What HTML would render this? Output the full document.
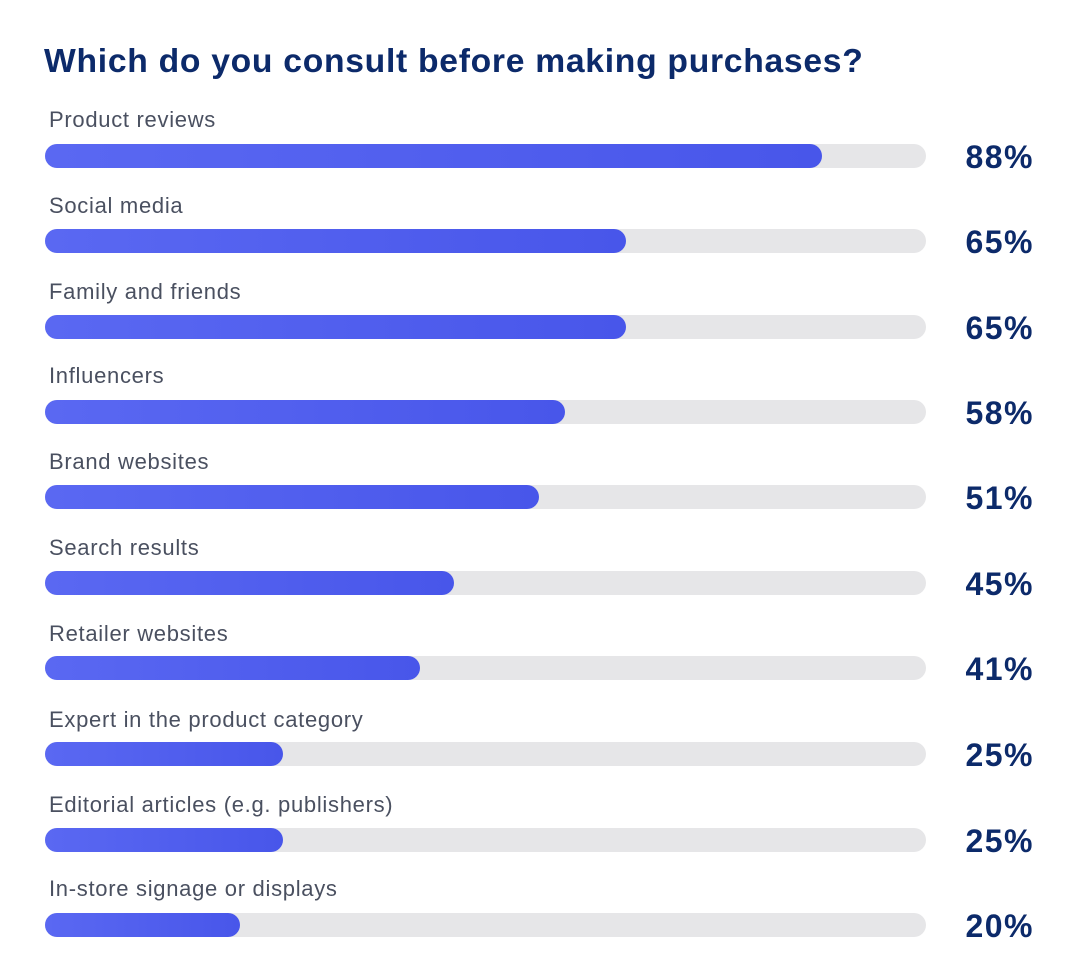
<!DOCTYPE html><html><head><style>
body{margin:0;width:1076px;height:980px;background:#fff;position:relative;font-family:"Liberation Sans",sans-serif;overflow:hidden}
.t{position:absolute;left:44px;top:42px;font-size:33px;font-weight:bold;color:#0c2a6a;letter-spacing:0.7px;transform:scaleX(1.02);transform-origin:left}
.l{position:absolute;left:49px;font-size:22px;color:#4a5060;letter-spacing:0.7px}
.bg{position:absolute;left:45px;width:881px;height:24px;border-radius:12px;background:#e6e6e8}
.f{position:absolute;left:0;top:0;height:24px;border-radius:12px;background:linear-gradient(90deg,#5a68f2,#4856ea)}
.p{position:absolute;right:42px;font-size:32px;font-weight:bold;color:#0c2a6a;letter-spacing:1.5px}
</style></head><body>
<div class="t">Which do you consult before making purchases?</div>
<div class="l" style="top:107px">Product reviews</div><div class="bg" style="top:144px"><div class="f" style="width:777px"></div></div><div class="p" style="top:139px">88%</div>
<div class="l" style="top:193px">Social media</div><div class="bg" style="top:229px"><div class="f" style="width:581px"></div></div><div class="p" style="top:224px">65%</div>
<div class="l" style="top:279px">Family and friends</div><div class="bg" style="top:315px"><div class="f" style="width:581px"></div></div><div class="p" style="top:310px">65%</div>
<div class="l" style="top:363px">Influencers</div><div class="bg" style="top:400px"><div class="f" style="width:520px"></div></div><div class="p" style="top:395px">58%</div>
<div class="l" style="top:449px">Brand websites</div><div class="bg" style="top:485px"><div class="f" style="width:494px"></div></div><div class="p" style="top:480px">51%</div>
<div class="l" style="top:535px">Search results</div><div class="bg" style="top:571px"><div class="f" style="width:409px"></div></div><div class="p" style="top:566px">45%</div>
<div class="l" style="top:621px">Retailer websites</div><div class="bg" style="top:656px"><div class="f" style="width:375px"></div></div><div class="p" style="top:651px">41%</div>
<div class="l" style="top:707px">Expert in the product category</div><div class="bg" style="top:742px"><div class="f" style="width:238px"></div></div><div class="p" style="top:737px">25%</div>
<div class="l" style="top:792px">Editorial articles (e.g. publishers)</div><div class="bg" style="top:828px"><div class="f" style="width:238px"></div></div><div class="p" style="top:823px">25%</div>
<div class="l" style="top:876px">In-store signage or displays</div><div class="bg" style="top:913px"><div class="f" style="width:195px"></div></div><div class="p" style="top:908px">20%</div>
</body></html>
